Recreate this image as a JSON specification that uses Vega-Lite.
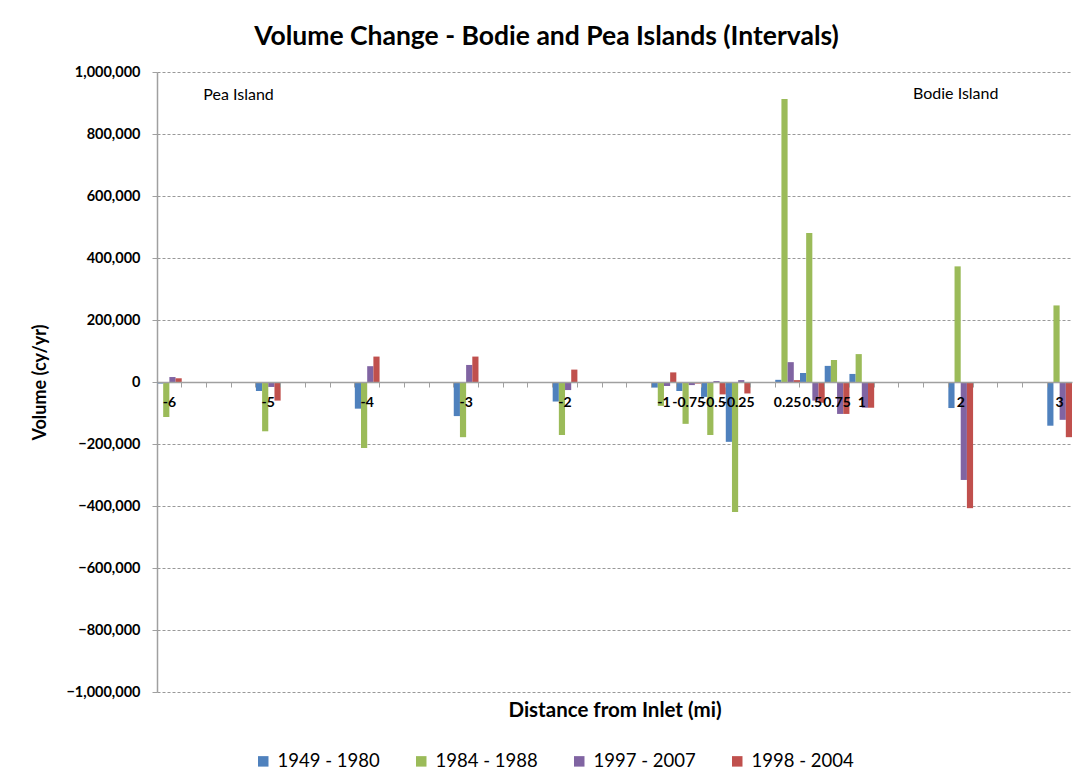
{
  "$schema": "https://vega.github.io/schema/vega-lite/v6.json",
  "width": 915,
  "height": 620,
  "autosize": {"type": "none"},
  "padding": {"left": 157, "top": 72, "right": 11, "bottom": 92},
  "background": "white",
  "config": {
    "font": "Lato",
    "view": {"stroke": null}
  },
  "title": {
    "text": "Volume Change - Bodie and Pea Islands (Intervals)",
    "font": "Lato",
    "fontSize": 26.5,
    "fontWeight": "bold",
    "color": "#000000",
    "anchor": "middle",
    "dx": -68,
    "offset": 14
  },
  "datasets": {
    "bars": [
      {"dist": -6, "period": "1949 - 1980", "volume": -5000},
      {"dist": -6, "period": "1984 - 1988", "volume": -113000},
      {"dist": -6, "period": "1997 - 2007", "volume": 16000},
      {"dist": -6, "period": "1998 - 2004", "volume": 12000},
      {"dist": -5, "period": "1949 - 1980", "volume": -29000},
      {"dist": -5, "period": "1984 - 1988", "volume": -159000},
      {"dist": -5, "period": "1997 - 2007", "volume": -16000},
      {"dist": -5, "period": "1998 - 2004", "volume": -60000},
      {"dist": -4, "period": "1949 - 1980", "volume": -86000},
      {"dist": -4, "period": "1984 - 1988", "volume": -213000},
      {"dist": -4, "period": "1997 - 2007", "volume": 51000},
      {"dist": -4, "period": "1998 - 2004", "volume": 82000},
      {"dist": -3, "period": "1949 - 1980", "volume": -110000},
      {"dist": -3, "period": "1984 - 1988", "volume": -178000},
      {"dist": -3, "period": "1997 - 2007", "volume": 55000},
      {"dist": -3, "period": "1998 - 2004", "volume": 82000},
      {"dist": -2, "period": "1949 - 1980", "volume": -63000},
      {"dist": -2, "period": "1984 - 1988", "volume": -171000},
      {"dist": -2, "period": "1997 - 2007", "volume": -26000},
      {"dist": -2, "period": "1998 - 2004", "volume": 40000},
      {"dist": -1, "period": "1949 - 1980", "volume": -18000},
      {"dist": -1, "period": "1984 - 1988", "volume": -77000},
      {"dist": -1, "period": "1997 - 2007", "volume": -13000},
      {"dist": -1, "period": "1998 - 2004", "volume": 31000},
      {"dist": -0.75, "period": "1949 - 1980", "volume": -29000},
      {"dist": -0.75, "period": "1984 - 1988", "volume": -135000},
      {"dist": -0.75, "period": "1997 - 2007", "volume": -10000},
      {"dist": -0.75, "period": "1998 - 2004", "volume": -5000},
      {"dist": -0.5, "period": "1949 - 1980", "volume": -48000},
      {"dist": -0.5, "period": "1984 - 1988", "volume": -171000},
      {"dist": -0.5, "period": "1997 - 2007", "volume": 3000},
      {"dist": -0.5, "period": "1998 - 2004", "volume": -40000},
      {"dist": -0.25, "period": "1949 - 1980", "volume": -193000},
      {"dist": -0.25, "period": "1984 - 1988", "volume": -419000},
      {"dist": -0.25, "period": "1997 - 2007", "volume": 6000},
      {"dist": -0.25, "period": "1998 - 2004", "volume": -37000},
      {"dist": 0.25, "period": "1949 - 1980", "volume": 7000},
      {"dist": 0.25, "period": "1984 - 1988", "volume": 913000},
      {"dist": 0.25, "period": "1997 - 2007", "volume": 64000},
      {"dist": 0.25, "period": "1998 - 2004", "volume": 6000},
      {"dist": 0.5, "period": "1949 - 1980", "volume": 29000},
      {"dist": 0.5, "period": "1984 - 1988", "volume": 481000},
      {"dist": 0.5, "period": "1997 - 2007", "volume": -60000},
      {"dist": 0.5, "period": "1998 - 2004", "volume": -67000},
      {"dist": 0.75, "period": "1949 - 1980", "volume": 52000},
      {"dist": 0.75, "period": "1984 - 1988", "volume": 71000},
      {"dist": 0.75, "period": "1997 - 2007", "volume": -103000},
      {"dist": 0.75, "period": "1998 - 2004", "volume": -103000},
      {"dist": 1, "period": "1949 - 1980", "volume": 26000},
      {"dist": 1, "period": "1984 - 1988", "volume": 90000},
      {"dist": 1, "period": "1997 - 2007", "volume": -83000},
      {"dist": 1, "period": "1998 - 2004", "volume": -83000},
      {"dist": 2, "period": "1949 - 1980", "volume": -84000},
      {"dist": 2, "period": "1984 - 1988", "volume": 373000},
      {"dist": 2, "period": "1997 - 2007", "volume": -316000},
      {"dist": 2, "period": "1998 - 2004", "volume": -407000},
      {"dist": 3, "period": "1949 - 1980", "volume": -141000},
      {"dist": 3, "period": "1984 - 1988", "volume": 247000},
      {"dist": 3, "period": "1997 - 2007", "volume": -122000},
      {"dist": 3, "period": "1998 - 2004", "volume": -178000}
    ],
    "notes": [
      {"label": "Pea Island", "dist": -5.25, "volume": 925000},
      {"label": "Bodie Island", "dist": 2, "volume": 930000}
    ]
  },
  "layer": [
    {
      "data": {"name": "bars"},
      "mark": {"type": "bar"},
      "encoding": {
        "x": {
          "field": "dist",
          "type": "ordinal",
          "sort": "ascending",
          "scale": {
            "domain": [-6, -5.75, -5.5, -5.25, -5, -4.75, -4.5, -4.25, -4, -3.75, -3.5, -3.25, -3, -2.75, -2.5, -2.25, -2, -1.75, -1.5, -1.25, -1, -0.75, -0.5, -0.25, 0, 0.25, 0.5, 0.75, 1, 1.25, 1.5, 1.75, 2, 2.25, 2.5, 2.75, 3],
            "paddingInner": 0,
            "paddingOuter": 0
          },
          "axis": {
            "title": "Distance from Inlet (mi)",
            "titleFont": "Lato",
            "titleFontSize": 20.5,
            "titleFontWeight": "bold",
            "titleColor": "#000000",
            "titleBaseline": "top",
            "titleY": 318,
            "offset": -310,
            "zindex": 1,
            "labelAngle": 0,
            "bandPosition": 0,
            "labelExpr": "(datum.value != 0 && (abs(datum.value) < 1 || datum.value % 1 == 0)) ? datum.label : ''",
            "labelFont": "Lato",
            "labelFontSize": 14,
            "labelFontWeight": "bold",
            "labelColor": "#000000",
            "labelPadding": 8,
            "labelOverlap": false,
            "labelBound": false,
            "tickSize": 5,
            "tickColor": "#a0a0a0",
            "domainColor": "#a0a0a0",
            "domainWidth": 1.5,
            "grid": false
          }
        },
        "xOffset": {
          "field": "period",
          "type": "nominal",
          "scale": {"paddingInner": 0, "paddingOuter": 0}
        },
        "y": {
          "field": "volume",
          "type": "quantitative",
          "scale": {"domain": [-1000000, 1000000], "nice": false},
          "axis": {
            "title": "Volume (cy/yr)",
            "titleFont": "Lato",
            "titleFontSize": 18,
            "titleFontWeight": "bold",
            "titleColor": "#000000",
            "titleX": -108,
            "values": [-1000000, -800000, -600000, -400000, -200000, 0, 200000, 400000, 600000, 800000, 1000000],
            "format": ",d",
            "labelFont": "Lato",
            "labelFontSize": 14.5,
            "labelFontWeight": "bold",
            "labelColor": "#000000",
            "labelPadding": 12,
            "tickSize": 5,
            "tickColor": "#a0a0a0",
            "domainColor": "#a0a0a0",
            "domainWidth": 1.5,
            "grid": true,
            "gridColor": "#999999",
            "gridDash": [3, 2],
            "gridWidth": 1
          }
        },
        "color": {
          "field": "period",
          "type": "nominal",
          "scale": {
            "domain": ["1949 - 1980", "1984 - 1988", "1997 - 2007", "1998 - 2004"],
            "range": ["#4F81BD", "#9BBB59", "#8064A2", "#C0504D"]
          },
          "legend": {
            "title": null,
            "orient": "none",
            "direction": "horizontal",
            "legendX": 97,
            "legendY": 680,
            "symbolType": "square",
            "symbolSize": 110,
            "symbolStrokeWidth": 0,
            "labelFont": "Lato",
            "labelFontSize": 18.5,
            "labelColor": "#000000",
            "labelOffset": 5,
            "columnPadding": 32
          }
        }
      }
    },
    {
      "data": {"name": "notes"},
      "mark": {"type": "text", "font": "Lato", "fontSize": 16, "color": "#000000", "dx": -5},
      "encoding": {
        "x": {"field": "dist", "type": "ordinal"},
        "y": {"field": "volume", "type": "quantitative"},
        "text": {"field": "label", "type": "nominal"}
      }
    }
  ]
}
